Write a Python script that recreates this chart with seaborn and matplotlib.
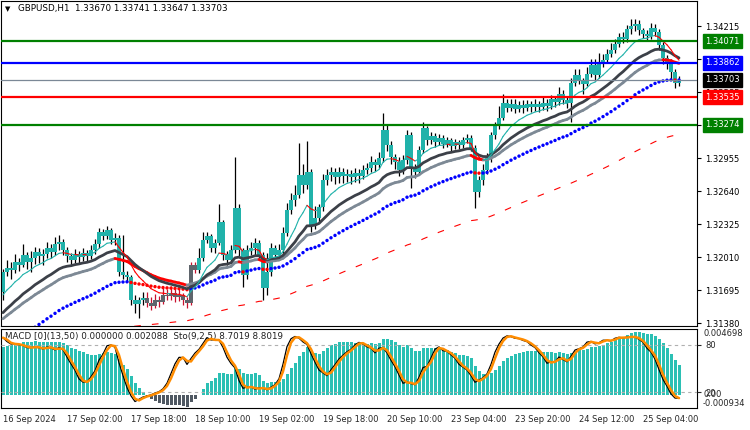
import numpy as np
import pandas as pd
import matplotlib
matplotlib.use("Agg")
import matplotlib.pyplot as plt
import matplotlib.transforms as mtransforms
from matplotlib.collections import LineCollection
import seaborn as sns

sns.set_style("white")
plt.rcParams['font.family'] = ['DejaVu Sans']

# ---------------- data ----------------
symbol = "GBPUSD,H1"
first_open = 1.31676
close = [
    1.31867, 1.31905, 1.31886, 1.31962, 1.31934, 1.32029, 1.31962, 1.32000, 1.32058, 1.32020,
    1.32039, 1.32096, 1.32058, 1.32134, 1.32153, 1.32077, 1.32020, 1.31981, 1.32039, 1.32010,
    1.32048, 1.32020, 1.32077, 1.32134, 1.32249, 1.32210, 1.32268, 1.32172, 1.32191, 1.31867,
    1.31838, 1.31819, 1.31600, 1.31561, 1.31600, 1.31619, 1.31571, 1.31542, 1.31600, 1.31580,
    1.31647, 1.31638, 1.31666, 1.31628, 1.31647, 1.31600, 1.31571, 1.31934, 1.31886, 1.32000,
    1.32172, 1.32210, 1.32096, 1.32144, 1.32344, 1.32029, 1.31981, 1.32077, 1.32478, 1.32077,
    1.31838, 1.32077, 1.32096, 1.32144, 1.32029, 1.31714, 1.31867, 1.32096, 1.32029, 1.32077,
    1.32239, 1.32459, 1.32554, 1.32602, 1.32793, 1.32697, 1.32821, 1.32315, 1.32382, 1.32487,
    1.32745, 1.32793, 1.32821, 1.32774, 1.32821, 1.32783, 1.32802, 1.32774, 1.32812, 1.32783,
    1.32840, 1.32859, 1.32917, 1.32888, 1.32955, 1.33222, 1.33079, 1.32964, 1.32917, 1.32840,
    1.32936, 1.33174, 1.32859, 1.32821, 1.33031, 1.33241, 1.33127, 1.33165, 1.33108, 1.33146,
    1.33089, 1.33127, 1.33069, 1.33108, 1.33079, 1.33127, 1.33146, 1.33050, 1.32630, 1.32745,
    1.32840, 1.32955, 1.33174, 1.33260, 1.33337, 1.33480, 1.33432, 1.33470, 1.33423, 1.33461,
    1.33432, 1.33470, 1.33442, 1.33470, 1.33442, 1.33480, 1.33451, 1.33518, 1.33489, 1.33566,
    1.33509, 1.33480, 1.33671, 1.33747, 1.33699, 1.33661, 1.33757, 1.33843, 1.33747, 1.33871,
    1.33890, 1.33948, 1.33986, 1.34043, 1.34110, 1.34091, 1.34186, 1.34215, 1.34234, 1.34177,
    1.34139, 1.34119, 1.34196, 1.34158, 1.34034, 1.33909, 1.33871, 1.33776, 1.33670, 1.33703,
]
high = [
    1.3190, 1.3198, 1.3196, 1.3204, 1.3200, 1.3213, 1.3206, 1.3207, 1.3211, 1.3210,
    1.3209, 1.3215, 1.3213, 1.3220, 1.3222, 1.3218, 1.3211, 1.3205, 1.3209, 1.3207,
    1.3210, 1.3208, 1.3212, 1.3218, 1.3229, 1.3228, 1.3231, 1.3229, 1.3224, 1.3222,
    1.3222, 1.3188, 1.3184, 1.3165, 1.3163, 1.3168, 1.3168, 1.3163, 1.3166, 1.3164,
    1.3172, 1.3170, 1.3173, 1.3170, 1.3170, 1.3167, 1.3163, 1.3196, 1.3196, 1.3210,
    1.3225, 1.3225, 1.3223, 1.3218, 1.3252, 1.3236, 1.3207, 1.3212, 1.3296, 1.3252,
    1.3210, 1.3212, 1.3215, 1.3219, 1.3217, 1.3206, 1.3205, 1.3214, 1.3212, 1.3213,
    1.3230, 1.3253, 1.3262, 1.3270, 1.3310, 1.3290, 1.3312, 1.3285, 1.3250, 1.3252,
    1.3280, 1.3285, 1.3287, 1.3286, 1.3287, 1.3286, 1.3285, 1.3284, 1.3286, 1.3285,
    1.3289, 1.3291, 1.3297, 1.3295, 1.3301, 1.3338, 1.3327, 1.3312, 1.3299, 1.3296,
    1.3298, 1.3322, 1.3320, 1.3290, 1.3307, 1.3330, 1.3326, 1.3320, 1.3319, 1.3318,
    1.3317, 1.3316, 1.3315, 1.3314, 1.3313, 1.3316, 1.3318, 1.3317, 1.3308, 1.3278,
    1.3290, 1.3300, 1.3320, 1.3330, 1.3345, 1.3357, 1.3352, 1.3352, 1.3352, 1.3350,
    1.3351, 1.3351, 1.3350, 1.3352, 1.3350, 1.3354, 1.3352, 1.3356, 1.3355, 1.3363,
    1.3360, 1.3354, 1.3372, 1.3380, 1.3380, 1.3372, 1.3382, 1.3390, 1.3390, 1.3396,
    1.3395, 1.3400, 1.3405, 1.3409, 1.3415, 1.3416, 1.3422, 1.3428, 1.3428, 1.3427,
    1.3420, 1.3418, 1.3424, 1.3423, 1.3419, 1.3406, 1.3394, 1.3390, 1.3380, 1.33741,
]
low = [
    1.3160, 1.3183, 1.3180, 1.3186, 1.3188, 1.3191, 1.3190, 1.3187, 1.3194, 1.3195,
    1.3193, 1.3200, 1.3200, 1.3203, 1.3208, 1.3203, 1.3196, 1.3192, 1.3195, 1.3195,
    1.3197, 1.3196, 1.3199, 1.3204, 1.3210, 1.3217, 1.3218, 1.3213, 1.3212, 1.3183,
    1.3180, 1.3177, 1.3155, 1.3148, 1.3143, 1.3155, 1.3153, 1.3150, 1.3152, 1.3153,
    1.3156, 1.3160, 1.3160, 1.3158, 1.3159, 1.3155, 1.3152, 1.3155, 1.3186, 1.3186,
    1.3197, 1.3214, 1.3206, 1.3205, 1.3212, 1.3198, 1.3193, 1.3195, 1.3205, 1.3202,
    1.3172, 1.3180, 1.3203, 1.3202, 1.3198, 1.3160, 1.3165, 1.3183, 1.3200, 1.3198,
    1.3204, 1.3221, 1.3242, 1.3250, 1.3257, 1.3262, 1.3266, 1.3225, 1.3228, 1.3233,
    1.3245, 1.3270, 1.3274, 1.3271, 1.3272, 1.3272, 1.3273, 1.3271, 1.3273, 1.3272,
    1.3275, 1.3280, 1.3282, 1.3283, 1.3286, 1.3292, 1.3302, 1.3290, 1.3285, 1.3278,
    1.3280, 1.3290, 1.3267, 1.3276, 1.3280, 1.3300, 1.3308, 1.3309, 1.3306, 1.3308,
    1.3305, 1.3306, 1.3302, 1.3304, 1.3304, 1.3305, 1.3310, 1.3302, 1.3248, 1.3258,
    1.3270, 1.3280, 1.3292, 1.3314, 1.3323, 1.3332, 1.3339, 1.3340, 1.3338, 1.3339,
    1.3338, 1.3340, 1.3339, 1.3340, 1.3339, 1.3341, 1.3340, 1.3342, 1.3344, 1.3346,
    1.3347, 1.3343, 1.3330, 1.3364, 1.3366, 1.3357, 1.3364, 1.3373, 1.3370, 1.3372,
    1.3382, 1.3386, 1.3392, 1.3396, 1.3401, 1.3405, 1.3406, 1.3414, 1.3417, 1.3413,
    1.3410, 1.3408, 1.3409, 1.3412, 1.3399, 1.3385, 1.3380, 1.3370, 1.3362, 1.33647,
]
alt_bars = list(range(36, 49))          # grey-bodied candles

x_labels = ["16 Sep 2024", "17 Sep 02:00", "17 Sep 18:00", "18 Sep 10:00", "19 Sep 02:00",
            "19 Sep 18:00", "20 Sep 10:00", "23 Sep 04:00", "23 Sep 20:00", "24 Sep 12:00",
            "25 Sep 04:00"]
label_step = 16
price_ticks = [1.34215, 1.33900, 1.33585, 1.33270, 1.32955, 1.32640, 1.32325,
               1.32010, 1.31695, 1.31380]
level_prices = [1.34071, 1.33862, 1.33535, 1.33274]
level_colors = ["#008000", "#0000ff", "#ff0000", "#008000"]

# moving averages: (span, starting value before the first bar)
ma_fast = (10, 1.3160)
ma_mid = (21, 1.3144)
ma_slow = (30, 1.3139)
ma_dots = (50, 1.3107)
ma_long = (115, 1.3082)
macd_spans = (13, 50)
macd_seeds = (1.3165, 1.3132)
macd_max, macd_min = 0.004698, -0.000934
sto_k, sto_d, sto_slow = 9, 2, 5
macd_text = "MACD [0](13,50) 0.000000 0.002088  Sto(9,2,5) 8.7019 8.8019"

# ---------------- derived ----------------
c = np.array(close)
h = np.array(high)
l = np.array(low)
o = np.concatenate([[first_open], c[:-1]])
n = len(c)
x = np.arange(n)


def ema(vals, span, seed):
    s = pd.Series(np.concatenate([[seed], vals]))
    return s.ewm(span=span, adjust=False).mean().to_numpy()[1:]


e_fast = ema(c, *ma_fast)
e_mid = ema(c, *ma_mid)
e_slow = ema(c, *ma_slow)
e_dots = ema(c, *ma_dots)
e_long = ema(c, *ma_long)
macd = ema(c, macd_spans[0], macd_seeds[0]) - ema(c, macd_spans[1], macd_seeds[1])

cs, hs, ls = pd.Series(c), pd.Series(h), pd.Series(l)
ll = ls.rolling(sto_k, min_periods=1).min()
hh = hs.rolling(sto_k, min_periods=1).max()
num = (cs - ll).rolling(sto_slow, min_periods=1).sum()
den = (hh - ll).rolling(sto_slow, min_periods=1).sum()
sto_main = 100 * num / den
sto_sig = sto_main.rolling(sto_d, min_periods=1).mean()

# ---------------- figure ----------------
W, H = 750, 430
fig = plt.figure(figsize=(W / 100, H / 100), dpi=100)
fig.patch.set_facecolor("white")


def px_axes(left, top, right, bottom):
    return fig.add_axes([left / W, 1 - bottom / H, (right - left) / W, (bottom - top) / H])


ax = px_axes(1, 1, 697, 326)
axs = px_axes(1, 329, 697, 408)

ppx = 0.00009545
ax.set_ylim(1.34215 - 300 * ppx, 1.34215 + 25 * ppx)
for a in (ax, axs):
    a.set_xlim(-0.5, 173.5)
    for sp in a.spines.values():
        sp.set_color("black")
        sp.set_linewidth(0.8)

TEAL = "#20b2aa"
# candles
wick_cols = ["#c8102e" if i in alt_bars else "black" for i in range(n)]
body_cols = ["#5f656c" if i in alt_bars else TEAL for i in range(n)]
ax.vlines(x, l, h, colors=wick_cols, linewidth=0.9, zorder=2)
body_h = np.maximum(np.abs(c - o), 0.00005)
ax.bar(x, body_h, bottom=np.minimum(o, c), width=0.8, color=body_cols,
       linewidth=0, zorder=2.2)


def sloped(axis, yv, up, down, lw, z):
    pts = np.column_stack([x, yv])
    segs = np.stack([pts[:-1], pts[1:]], axis=1)
    cols = [up if yv[i + 1] >= yv[i] else down for i in range(n - 1)]
    axis.add_collection(LineCollection(segs, colors=cols, linewidths=lw,
                                       zorder=z, capstyle="round"))


ax.plot(x, e_long, color="#ff0000", lw=0.8, dashes=(6, 10), zorder=3)
dot_cols = ["#0000ff" if i == 0 or e_dots[i] >= e_dots[i - 1] else "#ff0000" for i in range(n)]
ax.scatter(x, e_dots, c=dot_cols, s=6, marker="o", linewidths=0, zorder=3.2)
sloped(ax, e_slow, "#7d8995", "#ff0000", 2.0, 3.4)
sns.lineplot(x=x, y=e_mid, ax=ax, color="#3c4048", lw=2.0, zorder=3.5)
sloped(ax, e_fast, TEAL, "#ff0000", 0.8, 3.6)

# horizontal levels
ax.axhline(c[-1], color="#7b8896", lw=0.9, zorder=3.8)
for p, col in zip(level_prices, level_colors):
    ax.axhline(p, color=col, lw=1.6, zorder=4)

ax.set_xticks([])
ax.yaxis.tick_right()
ax.set_yticks(price_ticks)
ax.set_yticklabels([f"{t:.5f}" for t in price_ticks])
ax.tick_params(axis="y", direction="out", length=3, width=0.8, pad=3,
               labelsize=6, colors="black")
ax.set_xlabel("")
ax.set_ylabel("")

ytr = mtransforms.blended_transform_factory(ax.transAxes, ax.transData)
for p, col in list(zip(level_prices, level_colors)) + [(c[-1], "black")]:
    ax.text(1.0 + 8 / 696, p, f"{p:.5f}", transform=ytr, ha="left", va="center",
            fontsize=6, color="white", clip_on=False, zorder=10,
            bbox=dict(boxstyle="square,pad=0.3", fc=col, ec=col))

fig.text(5 / W, 1 - 9 / H, "\u25bc", fontsize=5, va="center", ha="left", color="black")
head = f"{symbol}  " + " ".join(f"{v:.5f}" for v in [o[-1], h[-1], l[-1], c[-1]])
fig.text(18 / W, 1 - 9 / H, head, fontsize=6.3, va="center", ha="left", color="black")

# ---------------- sub panel ----------------
axs.set_ylim(macd_min, macd_max)
hist_cols = [("#2bc0b4" if v >= 0 else "#4f5862") for v in macd]
axs.bar(x, macd, width=0.75, color=hist_cols, linewidth=0, zorder=2)
axs.set_yticks([])
axs.set_xticks(np.arange(len(x_labels)) * label_step)
axs.set_xticklabels(x_labels)
axs.tick_params(axis="x", direction="out", length=3, width=0.8, pad=2, labelsize=6)
for t in axs.get_xticklabels():
    t.set_horizontalalignment("left")

axt = axs.twinx()
axt.set_ylim(0, 100)
axt.set_xlim(-0.5, 173.5)
for lv in (80, 20):
    axt.axhline(lv, color="#b0b0b0", lw=0.8, ls=(0, (3, 3)), zorder=1)
sns.lineplot(x=x, y=sto_main.to_numpy(), ax=axt, color="black", lw=0.9)
sns.lineplot(x=x, y=sto_sig.to_numpy(), ax=axt, color="#ff8c00", lw=1.8)
axt.set_yticks([80, 20])
axt.set_yticklabels(["80", "20"])
axt.tick_params(axis="y", direction="out", length=3, width=0.8, pad=3, labelsize=6)
axt.set_ylabel("")
for sp in axt.spines.values():
    sp.set_visible(False)

str_ = mtransforms.blended_transform_factory(axs.transAxes, axs.transData)
axs.text(1.0 + 6 / 696, macd_max, f"{macd_max:.6f}", transform=str_, ha="left", va="top",
         fontsize=6, clip_on=False)
axs.text(1.0 + 6 / 696, 0.0, "0.00", transform=str_, ha="left", va="center",
         fontsize=6, clip_on=False)
axs.text(1.0 + 6 / 696, macd_min, f"{macd_min:.6f}", transform=str_, ha="left",
         va="bottom", fontsize=6, clip_on=False)
axs.text(4 / 696, 0.9, macd_text, transform=axs.transAxes, ha="left", va="center",
         fontsize=6.3, color="#202020", zorder=10)

fig.savefig("out.png", dpi=100, facecolor="white")
